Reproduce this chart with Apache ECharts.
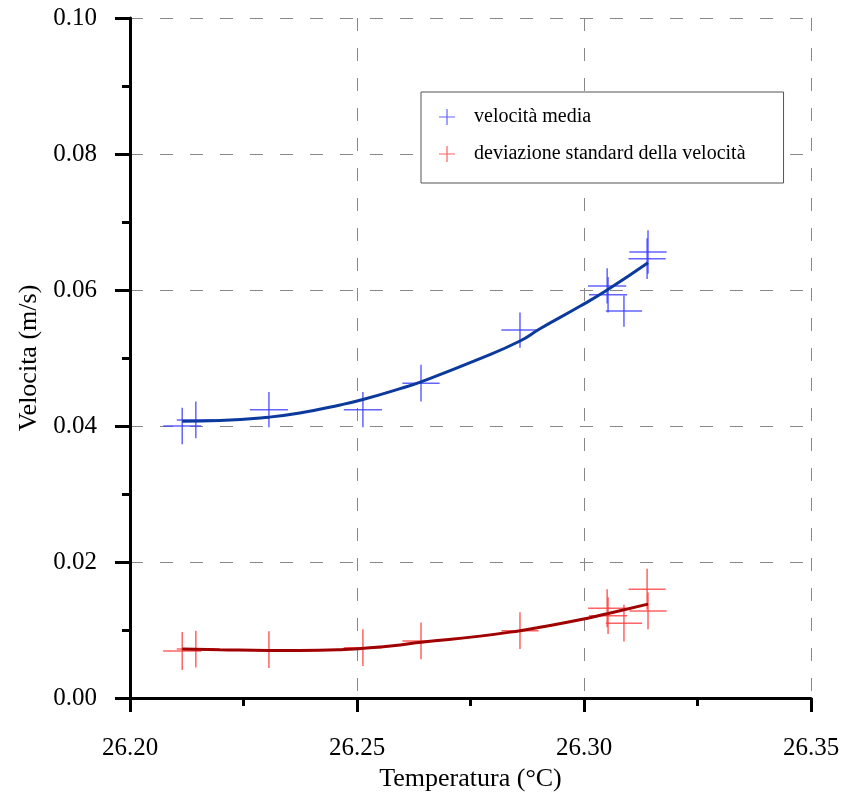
<!DOCTYPE html>
<html>
<head>
<meta charset="utf-8">
<script src="https://cdn.jsdelivr.net/npm/echarts@6/dist/echarts.min.js"></script>
<style>
  html, body { margin: 0; background: #fff; }
  #chart { width: 847px; height: 794px; }
</style>
</head>
<body>
<div id="chart"></div>
<script>
  // misure: temperatura (°C) e velocità (m/s), con incertezze
  const temperature = [26.2115, 26.2145, 26.2306, 26.2513, 26.2641, 26.2859, 26.3051, 26.3053, 26.3088, 26.3139, 26.3141]
  const tempErr = [0.0042, 0.0042, 0.0042, 0.0042, 0.0041, 0.0041, 0.0042, 0.0042, 0.0040, 0.0041, 0.0041]
  const velMedia = [0.0400, 0.0409, 0.0424, 0.0424, 0.0463, 0.0541, 0.0606, 0.0593, 0.0569, 0.0646, 0.0656]
  const velMediaErr = [0.0027, 0.0027, 0.0026, 0.0026, 0.0027, 0.0026, 0.0026, 0.0026, 0.0023, 0.0030, 0.0032]
  const velDev = [0.0069, 0.0072, 0.0071, 0.0074, 0.0084, 0.0099, 0.0132, 0.0121, 0.0110, 0.0160, 0.0128]
  const velDevErr = [0.0028, 0.0027, 0.0027, 0.0027, 0.0027, 0.0027, 0.0028, 0.0027, 0.0027, 0.0030, 0.0027]

  // curve di fit
  const fitTemp = [26.2115, 26.2198, 26.2306, 26.2374, 26.2463, 26.2513, 26.2595, 26.2641, 26.2771, 26.2859, 26.2903, 26.2991, 26.3051, 26.3141]
  const fitMedia = [0.0407, 0.0408, 0.0413, 0.0419, 0.0431, 0.0439, 0.0455, 0.0465, 0.0499, 0.0525, 0.0543, 0.0576, 0.0600, 0.0640]
  const fitDev = [0.0072, 0.0071, 0.0070, 0.0070, 0.0071, 0.0073, 0.0078, 0.0082, 0.0091, 0.0099, 0.0104, 0.0115, 0.0124, 0.0138]

  const yTicks = [0, 0.02, 0.04, 0.06, 0.08, 0.10]
  const xTicks = [26.20, 26.25, 26.30, 26.35]

  const seriesNames = ['velocità media', 'deviazione standard della velocità']
  const crossIcon = 'path://M7.4,0h1.2v7.4h7.4v1.2h-7.4v7.4h-1.2v-7.4h-7.4v-1.2h7.4z'
  const font = "'Liberation Serif', 'DejaVu Serif', serif"

  const zip = (a, b, c, d) => a.map((v, i) => c ? [v, b[i], c[i], d[i]] : [v, b[i]])

  function crossItem(params, api) {
    const x = api.value(0), y = api.value(1), dx = api.value(2), dy = api.value(3)
    const l = api.coord([x - dx, y]), r = api.coord([x + dx, y])
    const t = api.coord([x, y + dy]), b = api.coord([x, y - dy])
    const style = { stroke: api.visual('color'), lineWidth: 1.5 }
    return {
      type: 'group',
      children: [
        { type: 'line', shape: { x1: l[0], y1: l[1], x2: r[0], y2: r[1] }, style },
        { type: 'line', shape: { x1: t[0], y1: t[1], x2: b[0], y2: b[1] }, style }
      ]
    }
  }

  const chart = echarts.init(document.getElementById('chart'))
  chart.setOption({
    animation: false,
    grid: { left: 130, right: 36, top: 18, bottom: 96, outerBoundsMode: 'none' },
    legend: {
      data: [
        { name: seriesNames[0], icon: crossIcon, itemStyle: { color: 'rgba(60,60,255,0.8)' } },
        { name: seriesNames[1], icon: crossIcon, itemStyle: { color: 'rgba(255,60,60,0.8)' } }
      ],
      orient: 'vertical',
      left: 421,
      top: 92,
      itemWidth: 16,
      itemHeight: 16,
      itemGap: 17,
      padding: [15, 38, 19, 18],
      backgroundColor: '#fff',
      borderColor: '#555',
      borderWidth: 1,
      borderRadius: 0,
      selectedMode: false,
      textStyle: { fontFamily: font, fontSize: 20, color: '#000', padding: [0, 0, 0, 14] }
    },
    xAxis: {
      type: 'value',
      min: 26.20,
      max: 26.35,
      interval: 0.05,
      name: 'Temperatura (°C)',
      nameLocation: 'middle',
      nameGap: 64,
      nameTextStyle: { fontFamily: font, fontSize: 26, color: '#000' },
      axisLine: { onZero: false, lineStyle: { color: '#000', width: 3 } },
      axisTick: { length: 14, lineStyle: { color: '#000', width: 3 } },
      minorTick: { show: true, splitNumber: 2, length: 8, lineStyle: { color: '#000', width: 3 } },
      axisLabel: {
        margin: 38,
        fontFamily: font,
        fontSize: 25,
        color: '#000',
        formatter: v => xTicks.find(t => Math.abs(t - v) < 1e-6).toFixed(2)
      },
      splitLine: { lineStyle: { color: '#888', type: [13, 17], width: 1 } }
    },
    yAxis: {
      type: 'value',
      min: 0,
      max: 0.10,
      interval: 0.02,
      name: 'Velocita (m/s)',
      nameLocation: 'middle',
      nameGap: 88,
      nameTextStyle: { fontFamily: font, fontSize: 26, color: '#000' },
      axisLine: { show: true, lineStyle: { color: '#000', width: 3 } },
      axisTick: { show: true, length: 15, lineStyle: { color: '#000', width: 3 } },
      minorTick: { show: true, splitNumber: 2, length: 8, lineStyle: { color: '#000', width: 3 } },
      axisLabel: {
        margin: 33,
        fontFamily: font,
        fontSize: 25,
        color: '#000',
        formatter: v => yTicks.find(t => Math.abs(t - v) < 1e-6).toFixed(2)
      },
      splitLine: { lineStyle: { color: '#888', type: [13, 17], width: 1 } }
    },
    series: [
      {
        name: seriesNames[0],
        type: 'custom',
        renderItem: crossItem,
        itemStyle: { color: 'rgba(60,60,255,0.8)' },
        encode: { x: 0, y: 1 },
        data: zip(temperature, velMedia, tempErr, velMediaErr)
      },
      {
        name: seriesNames[1],
        type: 'custom',
        renderItem: crossItem,
        itemStyle: { color: 'rgba(255,60,60,0.8)' },
        encode: { x: 0, y: 1 },
        data: zip(temperature, velDev, tempErr, velDevErr)
      },
      {
        name: 'fit media',
        type: 'line',
        smooth: true,
        symbol: 'none',
        lineStyle: { color: '#0b3a9c', width: 3 },
        data: zip(fitTemp, fitMedia)
      },
      {
        name: 'fit deviazione',
        type: 'line',
        smooth: true,
        symbol: 'none',
        lineStyle: { color: '#a00000', width: 3 },
        data: zip(fitTemp, fitDev)
      }
    ]
  })
</script>
</body>
</html>
